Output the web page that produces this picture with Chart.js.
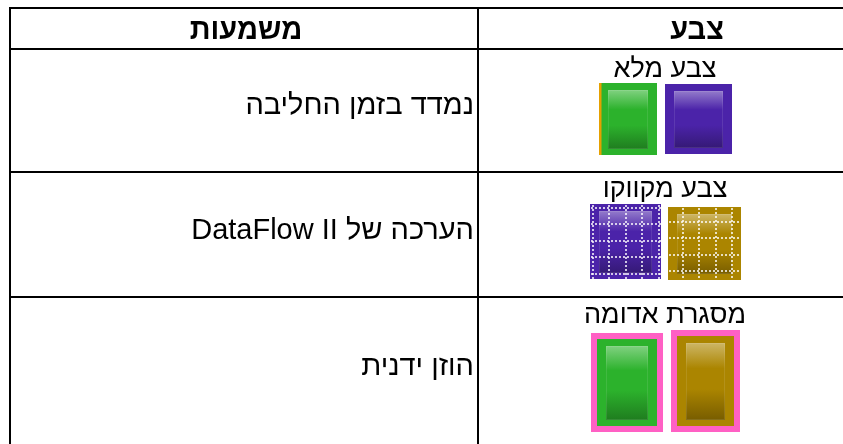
<!DOCTYPE html>
<html><head><meta charset="utf-8">
<script src="https://cdn.jsdelivr.net/npm/chart.js@4/dist/chart.umd.min.js"></script>
<style>html,body{margin:0;padding:0;background:#fff;overflow:hidden}canvas{display:block}</style>
</head><body>
<canvas id="c" width="843" height="444"></canvas>
<script>
// ---- data ----
const headers = ['משמעות', 'צבע'];
const meanings = ['נמדד בזמן החליבה', 'הערכה של DataFlow II', 'הוזן ידנית'];
const styleLabels = ['צבע מלא', 'צבע מקווקו', 'מסגרת אדומה'];
const styleKinds = ['solid', 'hatched', 'redframe'];
const swatchColors = [['#2cb22c', '#4b23a9'], ['#4b23a9', '#ab8500'], ['#2cb22c', '#ab8500']];

// ---- layout (pixels) ----
const L = {
  left: 10, divider: 478, right: 950,
  rowLines: [8, 49, 172, 297],
  headerBase: 39, headerCx: [246, 697],
  meaningRight: 474, meaningBase: [114, 239, 375],
  labelCx: 665, labelBase: [77, 197, 323],
  swatches: [
    [{x0:599,y0:83,x1:657,y1:155,strip:true},{x0:665,y0:84,x1:732,y1:154}],
    [{x0:590,y0:204,x1:661,y1:279,gx:593,gy:208},{x0:668,y0:207,x1:741,y1:280,gx:683,gy:222}],
    [{x0:591,y0:333,x1:663,y1:432},{x0:671,y0:330,x1:740,y1:432}]
  ]
};

function hex(c){const n=parseInt(c.slice(1),16);return [(n>>16)&255,(n>>8)&255,n&255];}
function mix(c,t,a){const p=hex(c);return 'rgb('+p.map(v=>Math.round(v+(t-v)*a)).join(',')+')';}

const tablePlugin = {
  id: 'table',
  afterDraw(chart) {
    const ctx = chart.ctx, X = chart.scales.x, Y = chart.scales.y;
    const px = v => X.getPixelForValue(v), py = v => Y.getPixelForValue(v);
    ctx.save();
    ctx.fillStyle = '#fff';
    ctx.fillRect(0,0,chart.width,chart.height);
    // grid
    ctx.fillStyle = '#000';
    L.rowLines.forEach(y => ctx.fillRect(px(L.left-1), py(y)-1, px(L.right)-px(L.left-1), 2));
    ctx.fillRect(px(L.left)-1, py(L.rowLines[0])-1, 2, chart.height);
    ctx.fillRect(px(L.divider)-1, py(L.rowLines[0])-1, 2, chart.height);
    // text
    ctx.direction = 'rtl';
    ctx.fillStyle = '#000';
    ctx.textBaseline = 'alphabetic';
    ctx.font = 'bold 29px "Liberation Sans", Arial, sans-serif';
    ctx.textAlign = 'center';
    headers.forEach((h,i) => ctx.fillText(h, px(L.headerCx[i]), py(L.headerBase)));
    ctx.font = '29px "Liberation Sans", Arial, sans-serif';
    ctx.textAlign = 'right';
    meanings.forEach((m,i) => ctx.fillText(m, px(L.meaningRight), py(L.meaningBase[i])));
    ctx.textAlign = 'center';
    ctx.font = '27px "Liberation Sans", Arial, sans-serif';
    styleLabels.forEach((s,i) => ctx.fillText(s, px(L.labelCx), py(L.labelBase[i])));
    // swatches
    styleKinds.forEach((kind,r) => {
      L.swatches[r].forEach((s,k) => {
        const col = swatchColors[r][k];
        let x0=px(s.x0), y0=py(s.y0), x1=px(s.x1), y1=py(s.y1);
        if (kind === 'redframe') {
          ctx.fillStyle = '#ff60c4';
          ctx.fillRect(x0,y0,x1-x0,y1-y0);
          x0+=6; y0+=6; x1-=6; y1-=6;
        }
        gloss(ctx, x0,y0,x1,y1,col);
        if (s.strip) { ctx.fillStyle = '#e5a000'; ctx.fillRect(x0,y0,2.5,y1-y0); }
        if (kind === 'hatched') hatch(ctx, x0,y0,x1,y1, px(s.gx), py(s.gy));
      });
    });
    ctx.restore();
  }
};

function gloss(ctx,x0,y0,x1,y1,col){
  ctx.fillStyle = col;
  ctx.fillRect(x0,y0,x1-x0,y1-y0);
  const ix=9, it=7, ib=6;
  const a=x0+ix, b=y0+it, c=x1-ix, d=y1-ib;
  const g = ctx.createLinearGradient(0,b,0,d);
  g.addColorStop(0, mix(col,255,0.4));
  g.addColorStop(0.33, col);
  g.addColorStop(0.6, col);
  g.addColorStop(1, mix(col,0,0.3));
  ctx.fillStyle = g;
  ctx.fillRect(a,b,c-a,d-b);
  ctx.strokeStyle = 'rgba(255,255,255,0.1)';
  ctx.lineWidth = 1;
  ctx.strokeRect(a+0.5,b+0.5,c-a-1,d-b-1);
}

function hatch(ctx,x0,y0,x1,y1,gx,gy){
  ctx.save();
  ctx.beginPath(); ctx.rect(x0,y0,x1-x0,y1-y0); ctx.clip();
  ctx.fillStyle = 'rgba(255,255,255,0.75)';
  const step = 16.4;
  for (let x = gx; x < x1; x += step) {
    const xi = Math.round(x) - 1;
    for (let y = y0 + 1; y < y1; y += 4) ctx.fillRect(xi, y, 2, 2);
  }
  for (let y = gy; y < y1; y += step) {
    const yi = Math.round(y) - 1;
    for (let x = x0 + 1; x < x1; x += 4) ctx.fillRect(x, yi, 2, 2);
  }
  ctx.restore();
}

new Chart(document.getElementById('c'), {
  type: 'scatter',
  data: { datasets: [{ data: [], showLine: false }] },
  options: {
    responsive: false, animation: false,
    layout: { padding: 0 },
    plugins: { legend: { display: false }, tooltip: { enabled: false } },
    scales: {
      x: { type: 'linear', min: 0, max: 843, display: false },
      y: { type: 'linear', min: 0, max: 444, reverse: true, display: false }
    }
  },
  plugins: [tablePlugin]
});
</script>
</body></html>
